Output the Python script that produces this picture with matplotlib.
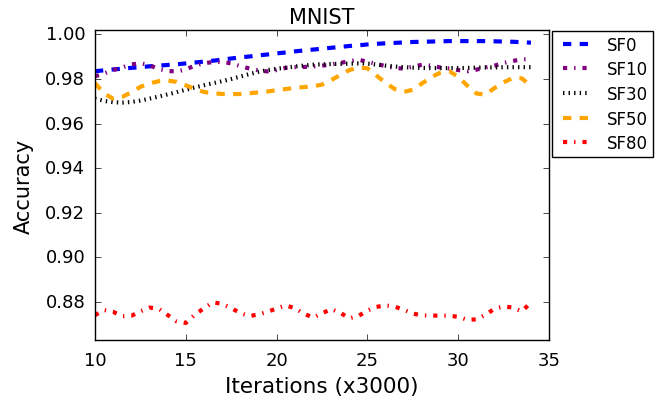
import matplotlib
matplotlib.use("Agg")
import matplotlib.pyplot as plt
from matplotlib.legend_handler import HandlerLine2D
import numpy as np

x = np.arange(10, 34.01, 0.5)

sf0 = [.9835, .9839, .9843, .9846, .9850, .9853, .9857, .9860, .9863, .9866,
       .9870, .9874, .9878, .9882, .9887, .9892, .9897, .9901, .9906, .9910,
       .9915, .9919, .9924, .9928, .9932, .9936, .9940, .9944, .9948, .9951,
       .9955, .9958, .9960, .9962, .9964, .9966, .9967, .9968, .9969, .9970,
       .9970, .9970, .9970, .9970, .9969, .9968, .9967, .9965, .9963]

sf10 = [.9812, .9825, .9840, .9852, .9865, .9871, .9862, .9845, .9836, .9834,
        .9843, .9860, .9871, .9876, .9877, .9870, .9858, .9847, .9839, .9834,
        .9840, .9850, .9853, .9854, .9856, .9860, .9865, .9872, .9880, .9886,
        .9878, .9867, .9858, .9849, .9847, .9855, .9864, .9860, .9852, .9847,
        .9840, .9835, .9842, .9852, .9860, .9872, .9881, .9888, .9890]

sf30 = [.9712, .9702, .9696, .9694, .9697, .9703, .9712, .9721, .9731, .9741,
        .9752, .9762, .9772, .9781, .9790, .9800, .9811, .9822, .9832, .9840,
        .9846, .9851, .9856, .9860, .9864, .9866, .9867, .9868, .9869, .9870,
        .9869, .9865, .9860, .9856, .9853, .9851, .9850, .9849, .9849, .9849,
        .9849, .9850, .9851, .9852, .9852, .9853, .9853, .9853, .9853]

sf50 = [.9782, .9735, .9712, .9720, .9740, .9765, .9780, .9790, .9793, .9787,
        .9772, .9755, .9742, .9736, .9733, .9732, .9733, .9736, .9740, .9744,
        .9750, .9755, .9760, .9764, .9767, .9775, .9795, .9818, .9840, .9852,
        .9848, .9815, .9783, .9755, .9742, .9752, .9780, .9808, .9828, .9835,
        .9810, .9770, .9735, .9730, .9760, .9785, .9805, .9803, .9768]

sf80 = [.8741, .8764, .8756, .8736, .8738, .8758, .8775, .8770, .8742, .8713,
        .8706, .8743, .8772, .8799, .8791, .8773, .8750, .8737, .8744, .8756,
        .8771, .8785, .8772, .8748, .8730, .8749, .8768, .8752, .8727, .8737,
        .8762, .8778, .8785, .8779, .8765, .8748, .8740, .8739, .8739, .8739,
        .8733, .8720, .8722, .8743, .8770, .8780, .8775, .8758, .8798]

labels = ["SF0", "SF10", "SF30", "SF50", "SF80"]

plt.style.use("classic")
plt.rcParams["font.family"] = ["DejaVu Sans"]

fig = plt.figure(figsize=(6.64, 4.02), dpi=100, facecolor="white")
ax = fig.add_axes([0.143, 0.152, 0.684, 0.771])
ax.set_facecolor("white")

lw = 3
lines = []
lines += ax.plot(x, sf0, color="blue", linestyle="--", lw=lw, label=labels[0])
lines += ax.plot(x, sf10, color="purple", linestyle="-.", lw=lw, label=labels[1])
lines += ax.plot(x, sf30, color="black", linestyle=":", lw=lw, label=labels[2])
lines += ax.plot(x, sf50, color="orange", linestyle="--", lw=lw, label=labels[3])
lines += ax.plot(x, sf80, color="red", linestyle="-.", lw=lw, label=labels[4])

ax.set_xlim(10, 35)
ax.set_ylim(0.863, 1.002)
ax.set_xticks([10, 15, 20, 25, 30, 35])
ax.set_yticks([0.88, 0.90, 0.92, 0.94, 0.96, 0.98, 1.00])
ax.set_yticklabels(["0.88", "0.90", "0.92", "0.94", "0.96", "0.98", "1.00"])
ax.tick_params(labelsize=13)
ax.tick_params(axis="x", pad=8)
ax.tick_params(axis="y", pad=7)
ax.set_xlabel("Iterations (x3000)", fontsize=15.5, labelpad=5)
ax.set_ylabel("Accuracy", fontsize=15, labelpad=8)
ax.set_title("MNIST", fontsize=15, pad=5)

hmap = {ln: HandlerLine2D(xpad=0.36) for ln in lines}
leg = ax.legend(loc="upper left", bbox_to_anchor=(1.0063, 0.998), fontsize=12,
                borderaxespad=0.0, numpoints=1, handlelength=1.86,
                handletextpad=1.15, labelspacing=0.4, borderpad=0.3,
                handler_map=hmap)
leg.get_frame().set_edgecolor("black")

fig.savefig("out.png", dpi=100, facecolor="white")
